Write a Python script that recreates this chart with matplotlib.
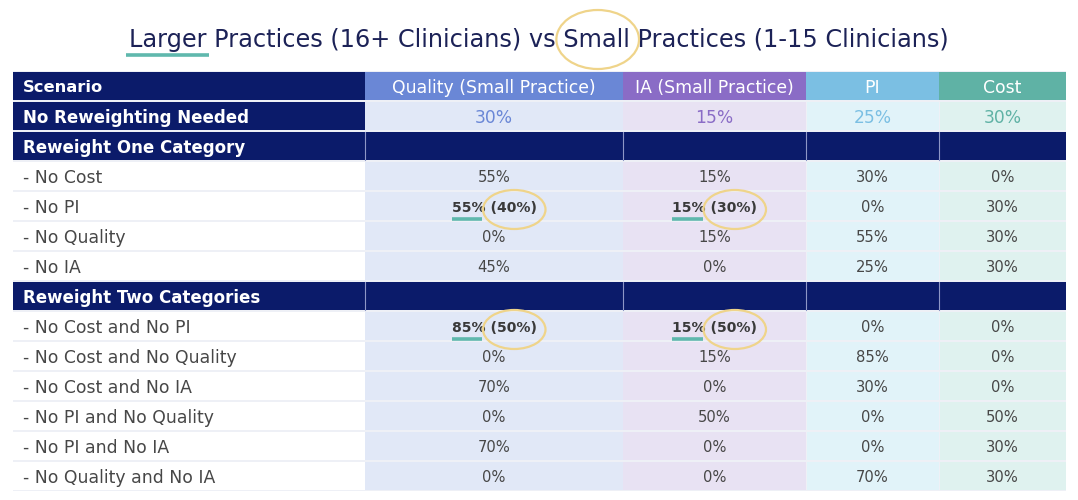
import matplotlib
matplotlib.use('Agg')
import matplotlib.pyplot as plt
from matplotlib.patches import Rectangle, Ellipse
from matplotlib.lines import Line2D

plt.rcParams['font.family'] = ['DejaVu Sans']

# ---------------- data ----------------
title = "Larger Practices (16+ Clinicians) vs Small Practices (1-15 Clinicians)"
title_underlined = "Larger"
title_circled = "Small"
columns = ["Scenario", "Quality (Small Practice)", "IA (Small Practice)", "PI", "Cost"]
scenarios = ["No Reweighting Needed", "Reweight One Category", "- No Cost", "- No PI",
             "- No Quality", "- No IA", "Reweight Two Categories", "- No Cost and No PI",
             "- No Cost and No Quality", "- No Cost and No IA", "- No PI and No Quality",
             "- No PI and No IA", "- No Quality and No IA"]
row_kind = ["top", "group", "data", "data", "data", "data", "group",
            "data", "data", "data", "data", "data", "data"]
quality = [30, None, 55, 55, 0, 45, None, 85, 0, 70, 0, 70, 0]
ia = [15, None, 15, 15, 15, 0, None, 15, 15, 0, 50, 0, 0]
pi = [25, None, 30, 0, 55, 25, None, 0, 85, 30, 0, 0, 70]
cost = [30, None, 0, 30, 30, 30, None, 0, 0, 0, 50, 30, 30]
# weights for larger practices (shown in parentheses where they differ)
quality_large = [None, None, None, 40, None, None, None, 50, None, None, None, None, None]
ia_large = [None, None, None, 30, None, None, None, 50, None, None, None, None, None]

# ---------------- style ----------------
NAVY = '#0b1b6a'
TITLE_C = '#1c2257'
head_colors = [NAVY, '#6a87d6', '#8a6cc6', '#7bbfe3', '#5fb2a5']
cell_colors = ['#ffffff', '#e1e8f7', '#e8e2f3', '#e1f3f9', '#dff2ef']
TEXT_C = '#474747'
GOLD = '#efd48a'
TEAL = '#5fb8ad'
SEP_C = '#8e97c6'

W, H = 1078, 500
fig = plt.figure(figsize=(W / 100, H / 100), dpi=100)
ax = fig.add_axes([0, 0, 1, 1])
ax.set_xlim(0, W)
ax.set_ylim(H, 0)
ax.axis('off')

col_edges = [13, 365, 623, 806, 939, 1066]
table_top = 71
row_h = 30
gap = 2

n_rows = len(scenarios) + 1
# light background (shows through as grid lines)
ax.add_patch(Rectangle((col_edges[0], table_top), col_edges[-1] - col_edges[0],
                       n_rows * row_h, facecolor='#eef0f6', edgecolor='none', zorder=0))

fig.canvas.draw()
renderer = fig.canvas.get_renderer()


def text_width(s, **kw):
    t = ax.text(0, 0, s, **kw)
    bb = t.get_window_extent(renderer=renderer)
    t.remove()
    return bb.width


def cell(ci, ri, color, hgap=1):
    x0 = col_edges[ci]
    x1 = col_edges[ci + 1]
    y0 = table_top + ri * row_h + gap / 2
    left = x0 + (hgap / 2 if ci > 0 else 0)
    right = x1 - (hgap / 2 if ci < len(col_edges) - 2 else 0)
    ax.add_patch(Rectangle((left, y0), right - left, row_h - gap,
                           facecolor=color, edgecolor='none', zorder=1))


def cx(ci):
    return (col_edges[ci] + col_edges[ci + 1]) / 2


def cy(ri):
    return table_top + ri * row_h + row_h / 2


SCEN_X = 23
FS_HEAD = 12.4
FS_HEAD_B = 11.7
FS_TOPVAL = 12.3
FS_DATA = 10.6
FS_ANN = 10.1
FS_SCEN = 12.4
FS_SCEN_B = 12.0

# header row
for ci, name in enumerate(columns):
    cell(ci, 0, head_colors[ci], hgap=0)
    if ci == 0:
        ax.text(SCEN_X, cy(0), name, color='white', fontsize=FS_HEAD_B, fontweight='bold',
                ha='left', va='center_baseline', zorder=3)
    else:
        ax.text(cx(ci), cy(0), name, color='white', fontsize=FS_HEAD,
                ha='center', va='center_baseline', zorder=3)

value_cols = [quality, ia, pi, cost]
large_cols = [quality_large, ia_large, None, None]

for i, scen in enumerate(scenarios):
    ri = i + 1
    kind = row_kind[i]
    if kind == 'group':
        for ci in range(5):
            cell(ci, ri, NAVY, hgap=0)
        y0 = table_top + ri * row_h + gap / 2
        for xe in col_edges[1:-1]:
            ax.add_line(Line2D([xe, xe], [y0, y0 + row_h - gap], color=SEP_C, lw=0.8,
                               zorder=2))
        ax.text(SCEN_X, cy(ri), scen, color='white', fontsize=FS_SCEN_B, fontweight='bold',
                ha='left', va='center_baseline', zorder=3)
        continue
    if kind == 'top':
        cell(0, ri, NAVY, hgap=0)
        ax.text(SCEN_X, cy(ri), scen, color='white', fontsize=FS_SCEN_B, fontweight='bold',
                ha='left', va='center_baseline', zorder=3)
    else:
        cell(0, ri, cell_colors[0], hgap=0)
        ax.text(SCEN_X, cy(ri), scen, color=TEXT_C, fontsize=FS_SCEN,
                ha='left', va='center_baseline', zorder=3)
    for k, vals in enumerate(value_cols):
        ci = k + 1
        cell(ci, ri, cell_colors[ci], hgap=0 if ci < 3 else 1)
        v = vals[i]
        lc = large_cols[k]
        big = lc[i] if lc is not None else None
        if kind == 'top':
            ax.text(cx(ci), cy(ri), f"{v}%", color=head_colors[ci], fontsize=FS_TOPVAL,
                    ha='center', va='center_baseline', zorder=3)
        elif big is not None:
            s1 = f"{v}%"
            s2 = f"({big}%)"
            full = s1 + " " + s2
            kw = dict(fontsize=FS_ANN, fontweight='bold')
            wf = text_width(full, **kw)
            w1 = text_width(s1, **kw)
            w2 = text_width(s2, **kw)
            x_left = cx(ci) - wf / 2
            ax.text(cx(ci), cy(ri), full, color='#3a3a3a', ha='center',
                    va='center_baseline', zorder=3, **kw)
            ax.add_line(Line2D([x_left, x_left + w1 - 3], [cy(ri) + 13, cy(ri) + 13],
                               color=TEAL, lw=2.6, solid_capstyle='butt', zorder=4))
            ax.add_patch(Ellipse((x_left + wf - w2 / 2 + 1, cy(ri) + 3.5), w2 + 16, 39,
                                 facecolor='none', edgecolor=GOLD, lw=1.6, zorder=4))
        else:
            ax.text(cx(ci), cy(ri), f"{v}%", color=TEXT_C, fontsize=FS_DATA,
                    ha='center', va='center_baseline', zorder=3)

# ---------------- title ----------------
TITLE_W = 819
fs0 = 20
w0 = text_width(title, fontsize=fs0)
FS_TITLE = fs0 * TITLE_W / w0
title_x = 539
title_y = 38
ax.text(title_x, title_y, title, fontsize=FS_TITLE, color=TITLE_C, ha='center',
        va='center_baseline', zorder=3)
tw = text_width(title, fontsize=FS_TITLE)
tx0 = title_x - tw / 2
wu = text_width(title_underlined, fontsize=FS_TITLE)
ax.add_line(Line2D([tx0 - 3, tx0 + wu + 2], [54.5, 54.5], color=TEAL, lw=2.6,
                   solid_capstyle='butt', zorder=4))
idx = title.index(title_circled)
wpre = text_width(title[:idx], fontsize=FS_TITLE)
wc = text_width(title_circled, fontsize=FS_TITLE)
ax.add_patch(Ellipse((tx0 + wpre + wc / 2 + 1, 39.5), wc + 16, 59, facecolor='none',
                     edgecolor=GOLD, lw=1.6, zorder=4))

fig.savefig('out.png', dpi=100, facecolor='white')
